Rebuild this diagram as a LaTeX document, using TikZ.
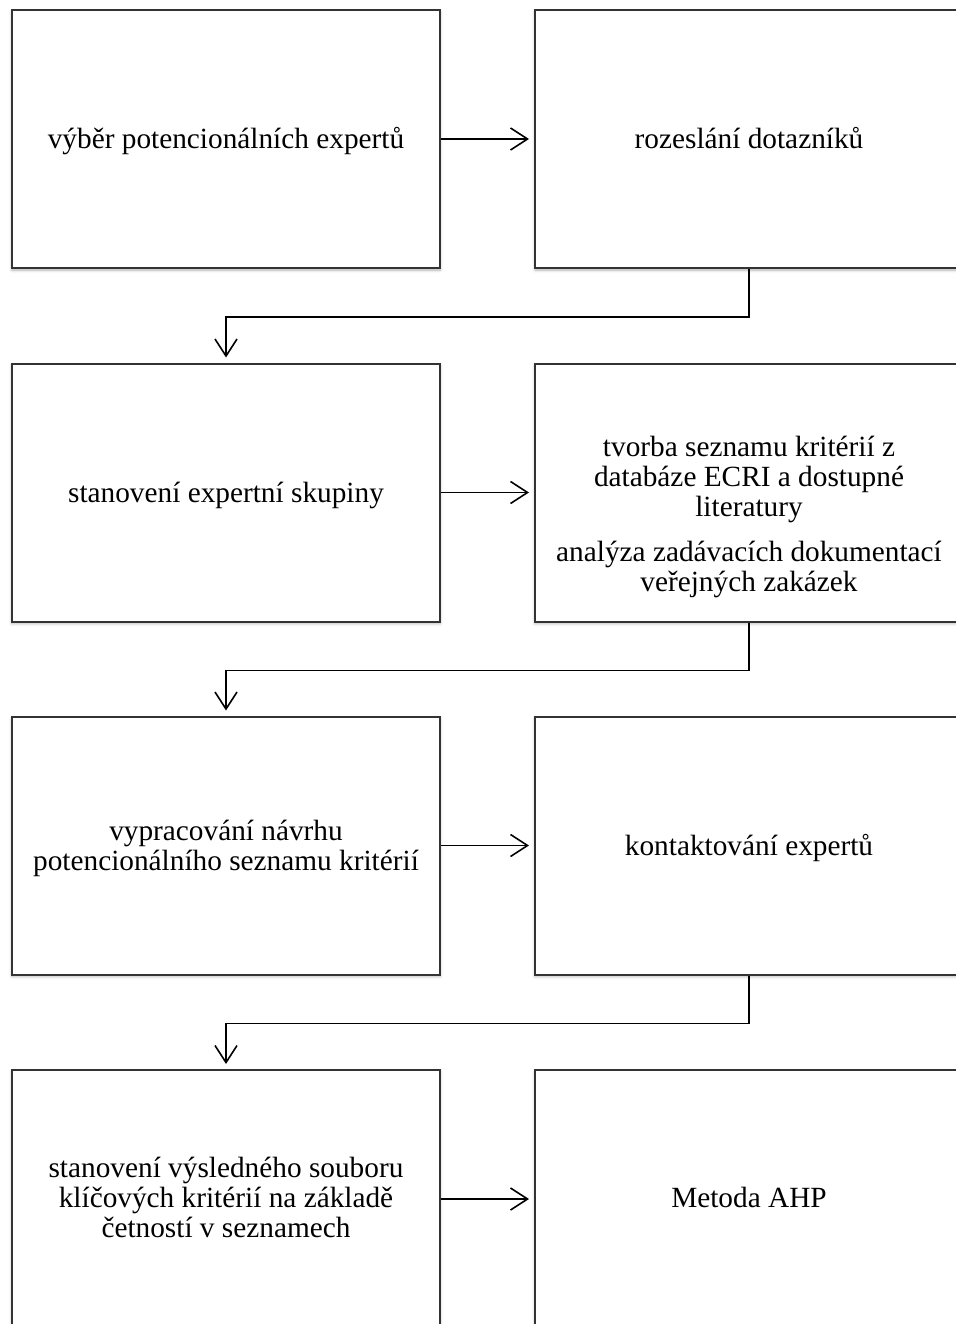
\documentclass[tikz,border=0pt]{standalone}
\usepackage{fontspec}
\setmainfont{Liberation Serif}
\usetikzlibrary{arrows.meta,shadows.blur}
\begin{document}
\begin{tikzpicture}[x=1pt,y=1pt,
  stepbox/.style={draw=black!80, line width=2pt, fill=white,
    minimum width=428pt, minimum height=258pt, inner sep=0pt,
    blur shadow={shadow xshift=0pt, shadow yshift=-2pt, shadow blur radius=3pt, shadow opacity=30}},
  txt/.style={font=\fontsize{29.3}{30}\selectfont, align=center, inner sep=0pt, anchor=base},
  conn/.style={line width=1.6pt, black, -{Straight Barb[length=17pt,width=22pt]}, shorten >=5pt}]
\useasboundingbox (0,0) rectangle (955,-1324);

% boxes
\node[stepbox] (l1) at (226,-139) {};
\node[stepbox] (r1) at (749,-139) {};
\node[stepbox] (l2) at (226,-492.5) {};
\node[stepbox] (r2) at (749,-492.5) {};
\node[stepbox] (l3) at (226,-845.5) {};
\node[stepbox] (r3) at (749,-845.5) {};
\node[stepbox] (l4) at (226,-1199) {};
\node[stepbox] (r4) at (749,-1199) {};

% texts (base anchor = baseline of the last line)
\node[txt] (t1) at (226,-149) {výběr potencionálních expertů};
\node[txt] (t2) at (749,-149) {rozeslání dotazníků};
\node[txt] (t3) at (226,-502) {stanovení expertní skupiny};
\node[txt] (t4) at (749,-591) {tvorba seznamu kritérií z\\databáze ECRI a dostupné\\literatury\\[15pt]analýza zadávacích dokumentací\\veřejných zakázek};
\node[txt] (t5) at (226,-870) {vypracování návrhu\\potencionálního seznamu kritérií};
\node[txt] (t6) at (749,-855) {kontaktování expertů};
\node[txt] (t7) at (226,-1237) {stanovení výsledného souboru\\klíčových kritérií na základě\\četností v seznamech};
\node[txt] (t8) at (749,-1207) {Metoda AHP};

% connectors
\draw[conn] (l1.east) -- (r1.west);
\draw[conn] (l2.east) -- (r2.west);
\draw[conn] (l3.east) -- (r3.west);
\draw[conn] (l4.east) -- (r4.west);
\draw[conn] (r1.south) -- ++(0,-48) -| (l2.north);
\draw[conn] (r2.south) -- ++(0,-48) -| (l3.north);
\draw[conn] (r3.south) -- ++(0,-48) -| (l4.north);
\end{tikzpicture}
\end{document}
